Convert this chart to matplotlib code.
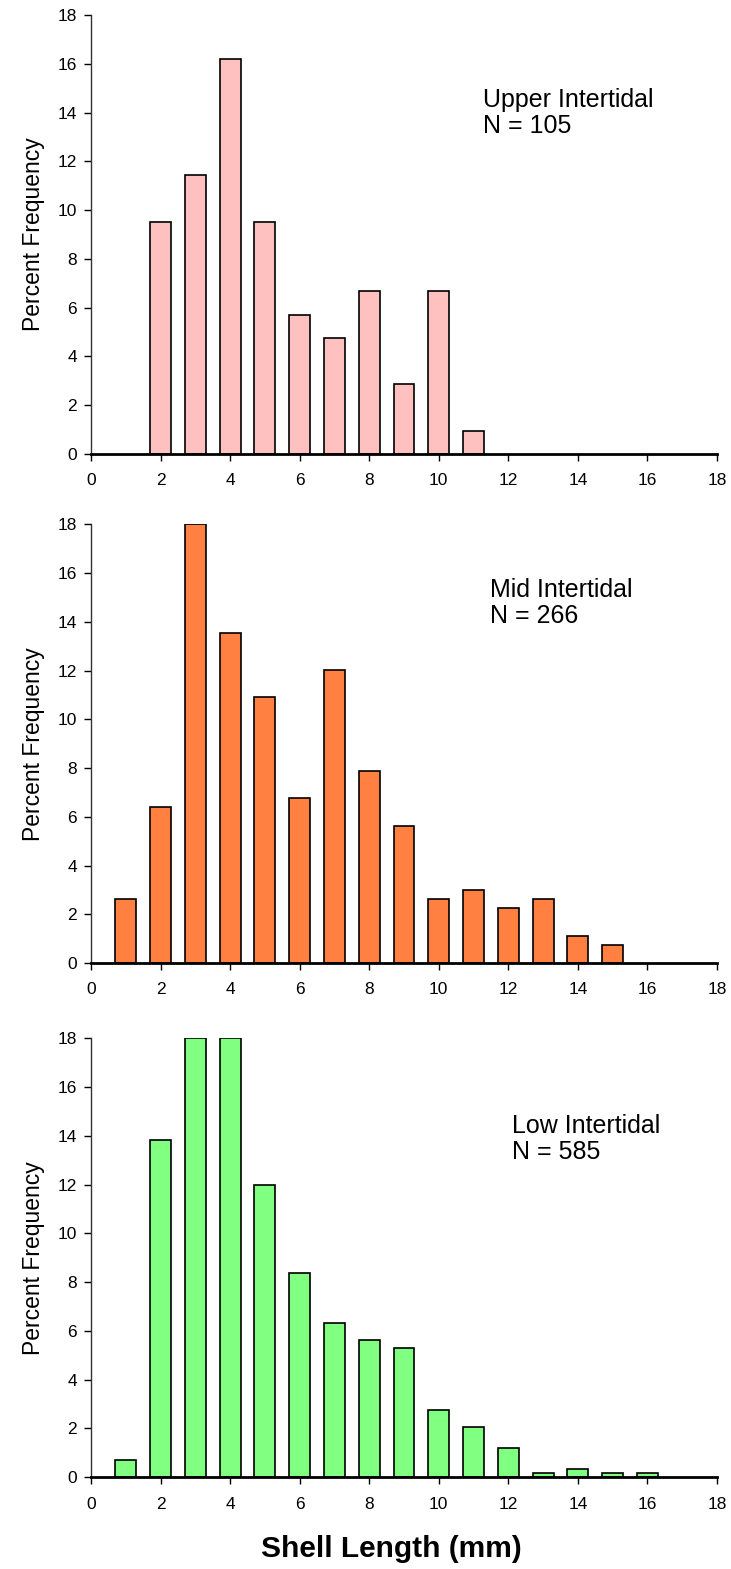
import numpy as np
import matplotlib.pyplot as plt

# percent frequency by shell length class (mm)
upper_len = [2, 3, 4, 5, 6, 7, 8, 9, 10, 11]
upper_pct = [9.52, 11.43, 16.19, 9.52, 5.71, 4.76, 6.67, 2.86, 6.67, 0.95]

mid_len = [1, 2, 3, 4, 5, 6, 7, 8, 9, 10, 11, 12, 13, 14, 15]
mid_pct = [2.63, 6.39, 18.0, 13.53, 10.90, 6.77, 12.03, 7.89, 5.64, 2.63,
           3.01, 2.26, 2.63, 1.13, 0.75]

low_len = [1, 2, 3, 4, 5, 6, 7, 8, 9, 10, 11, 12, 13, 14, 15, 16]
low_pct = [0.68, 13.85, 18.0, 18.0, 11.97, 8.38, 6.32, 5.64, 5.30, 2.74,
           2.05, 1.20, 0.17, 0.34, 0.17, 0.17]

# colour, annotation, annotation position (x, y in data units)
panels = [
    (upper_len, upper_pct, '#FFC0C0', 'Upper Intertidal\nN = 105', 11.27, 15.0),
    (mid_len, mid_pct, '#FF8040', 'Mid Intertidal\nN = 266', 11.47, 15.8),
    (low_len, low_pct, '#80FF80', 'Low Intertidal\nN = 585', 12.1, 14.9),
]

narrow = ['Liberation Sans Narrow', 'Liberation Sans', 'DejaVu Sans']

fig = plt.figure(figsize=(7.31, 15.69), dpi=100)
bottoms = [0.7108, 0.3862, 0.0586]

for (x, y, col, txt, tx, ty), b in zip(panels, bottoms):
    ax = fig.add_axes([0.1245, b, 0.8564, 0.2796])
    ax.bar(x, y, width=0.6, color=col, edgecolor='black', linewidth=1.2)
    ax.set_xlim(0, 18)
    ax.set_ylim(0, 18)
    ax.set_xticks(np.arange(0, 19, 2))
    ax.set_yticks(np.arange(0, 19, 2))
    ax.spines['top'].set_visible(False)
    ax.spines['right'].set_visible(False)
    ax.spines['bottom'].set_linewidth(2)
    ax.spines['left'].set_linewidth(1)
    ax.spines['left'].set_color('#333333')
    ax.tick_params(direction='out', length=5, width=1, labelsize=12.5)
    ax.tick_params(axis='x', pad=9)
    ax.tick_params(axis='y', pad=5)
    for lab in ax.get_xticklabels() + ax.get_yticklabels():
        lab.set_family(narrow)
    ax.set_ylabel('Percent Frequency', fontsize=16.5, family='Liberation Sans', labelpad=9)
    ax.text(tx, ty, txt, fontsize=18, family=narrow, va='top', ha='left',
            linespacing=1.1)

fig.text(0.536, 0.0125, 'Shell Length (mm)', fontsize=21.5, fontweight='bold',
         family='Liberation Sans', ha='center', va='center')

fig.savefig('out.png', dpi=100)
